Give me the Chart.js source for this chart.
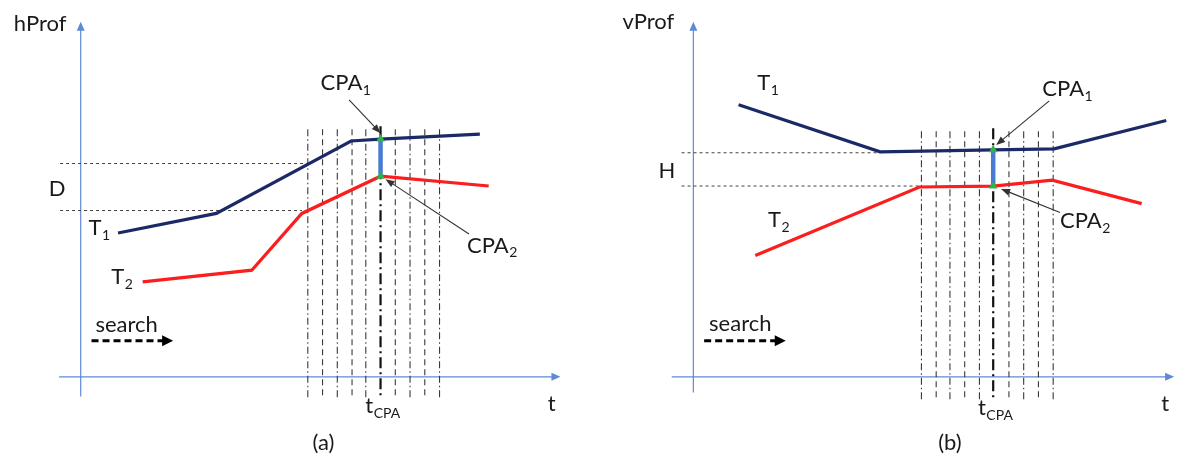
<!DOCTYPE html>
<html><head><meta charset="utf-8">
<script src="https://cdn.jsdelivr.net/npm/chart.js@4.4.1/dist/chart.umd.min.js"></script>
<style>
html,body{margin:0;padding:0;background:#fff;}
#wrap{display:flex;width:1185px;height:466px;}
canvas{display:block;}
</style></head><body>
<div id="wrap"><canvas id="ca" width="592" height="466"></canvas><canvas id="cb" width="593" height="466"></canvas></div>
<script>
// ---------- Panel (a): horizontal profile (hProf vs t) ----------
const hT1_t = [3.8, 13.8, 27.5, 30.5, 40.6];
const hT1_v = [14.7, 16.7, 24.1, 24.3, 24.8];
const hT2_t = [6.3, 17.4, 22.5, 30.5, 41.5];
const hT2_v = [9.7, 10.9, 16.7, 20.5, 19.5];
const hGrid_t = [23.1, 24.6, 26.1, 27.6, 29.0, 32.0, 33.5, 35.0, 36.5];
const hCPA_t = 30.5;
const hBand_v = [17.0, 21.8];      // D band levels
const hBand_end = [22.5, 23.1];    // where the band lines meet the tracks

// ---------- Panel (b): vertical profile (vProf vs t) ----------
const vT1_t = [4.6, 19.0, 30.5, 36.7, 48.1];
const vT1_v = [27.8, 23.0, 23.2, 23.3, 26.2];
const vT2_t = [6.3, 23.0, 30.5, 36.5, 45.6];
const vT2_v = [12.4, 19.4, 19.5, 20.1, 17.7];
const vGrid_t = [23.2, 24.7, 26.1, 27.6, 29.1, 32.1, 33.6, 35.1, 36.6];
const vCPA_t = 30.5;
const vBand_v = [19.5, 22.9];      // H band levels
const vBand_end = [23.0, 19.0];

const C = {
  navy: '#1b2a66', red: '#fa1e1e', seg: '#4a7bd0', green: '#2fb24c',
  axis: '#5f8ad6', grid: '#3a3a3a', text: '#1a1a1a'
};
const FONT = 'Lato, "Open Sans", sans-serif';

function pts(ts, vs){ return ts.map((t,i)=>({x:t, y:vs[i]})); }

function arrowHead(ctx, x1, y1, x2, y2, len, w, color){
  const a = Math.atan2(y2-y1, x2-x1);
  ctx.save();
  ctx.fillStyle = color;
  ctx.beginPath();
  ctx.moveTo(x2, y2);
  ctx.lineTo(x2 - len*Math.cos(a) + (w/2)*Math.sin(a), y2 - len*Math.sin(a) - (w/2)*Math.cos(a));
  ctx.lineTo(x2 - len*Math.cos(a) - (w/2)*Math.sin(a), y2 - len*Math.sin(a) + (w/2)*Math.cos(a));
  ctx.closePath();
  ctx.fill();
  ctx.restore();
}
function arrow(ctx, x1, y1, x2, y2, opt){
  const a = Math.atan2(y2-y1, x2-x1);
  ctx.save();
  ctx.strokeStyle = opt.color; ctx.lineWidth = opt.lw;
  ctx.setLineDash(opt.dash || []);
  ctx.beginPath();
  ctx.moveTo(x1, y1);
  ctx.lineTo(x2 - opt.len*0.8*Math.cos(a), y2 - opt.len*0.8*Math.sin(a));
  ctx.stroke();
  ctx.restore();
  arrowHead(ctx, x1, y1, x2, y2, opt.len, opt.w, opt.color);
}
function label(ctx, x, y, main, sub, size, align){
  ctx.save();
  ctx.fillStyle = C.text;
  ctx.textBaseline = 'middle';
  ctx.font = size + 'px ' + FONT;
  const wMain = ctx.measureText(main).width;
  let wSub = 0;
  const subSize = Math.round(size*0.64);
  if (sub){ ctx.font = subSize + 'px ' + FONT; wSub = ctx.measureText(sub).width; }
  let x0 = x;
  if (align === 'center') x0 = x - (wMain + wSub)/2;
  ctx.font = size + 'px ' + FONT;
  ctx.textAlign = 'left';
  ctx.fillText(main, x0, y);
  if (sub){ ctx.font = subSize + 'px ' + FONT; ctx.fillText(sub, x0 + wMain + 0.5, y + size*0.32); }
  ctx.restore();
}

function makePanel(id, P){
  const i1 = P.t1t.indexOf(P.tcpa), i2 = P.t2t.indexOf(P.tcpa);
  const cpa1 = P.t1v[i1], cpa2 = P.t2v[i2];
  const ds = [];
  ds.push({data:[{x:P.tcpa,y:cpa1},{x:P.tcpa,y:cpa2}], showLine:false, pointStyle:'triangle',
           pointRadius:5, pointBackgroundColor:C.green, pointBorderWidth:0});
  ds.push({data:[{x:P.tcpa,y:cpa2},{x:P.tcpa,y:cpa1}], borderColor:C.seg, borderWidth:4.5, pointRadius:0});
  ds.push({data:pts(P.t1t,P.t1v), borderColor:C.navy, borderWidth:3.2, pointRadius:0, borderJoinStyle:'miter'});
  ds.push({data:pts(P.t2t,P.t2v), borderColor:C.red, borderWidth:3.2, pointRadius:0, borderJoinStyle:'miter'});
  ds.push({data:[{x:P.tcpa,y:P.gridTop+0.3},{x:P.tcpa,y:P.gridBot}], borderColor:'#111', borderWidth:2.2,
           borderDash:[11,4,2,4], pointRadius:0});
  P.grid.forEach((t,k)=>{
    ds.push({data:[{x:t,y:P.gridTop},{x:t,y:P.gridBot}], borderColor:C.grid, borderWidth:1.1,
             borderDash: k%2===0 ? [7,3,1.5,3] : [6,4], pointRadius:0});
  });
  P.band.forEach((v,k)=>{
    ds.push({data:[{x:P.bandStart,y:v},{x:P.bandEnd[k],y:v}], borderColor:'#444', borderWidth:1,
             borderDash:[3,3], pointRadius:0});
  });

  const deco = {
    id:'deco'+id,
    beforeDatasetsDraw(chart){
      const ctx = chart.ctx, xs = chart.scales.x, ys = chart.scales.y;
      const X = v=>xs.getPixelForValue(v), Y = v=>ys.getPixelForValue(v);
      ctx.save();
      ctx.strokeStyle = C.axis; ctx.lineWidth = 1.2;
      ctx.beginPath();
      ctx.moveTo(X(P.axX[0]), Y(0)); ctx.lineTo(X(P.axX[1])-4, Y(0));
      ctx.moveTo(X(0), Y(P.axY[0])); ctx.lineTo(X(0), Y(P.axY[1])+4);
      ctx.stroke();
      ctx.restore();
      arrowHead(ctx, X(0), Y(0), X(P.axX[1]), Y(0), 9, 8, C.axis);
      arrowHead(ctx, X(0), Y(0), X(0), Y(P.axY[1]), 9, 8, C.axis);
    },
    afterDatasetsDraw(chart){
      const ctx = chart.ctx, xs = chart.scales.x, ys = chart.scales.y;
      const X = v=>xs.getPixelForValue(v), Y = v=>ys.getPixelForValue(v);
      P.labels.forEach(L=>label(ctx, X(L.t), Y(L.v), L.main, L.sub, L.size||22, L.align));
      P.arrows.forEach(A=>arrow(ctx, X(A.from[0]), Y(A.from[1]), X(A.to[0]), Y(A.to[1]),
        A.bold ? {color:'#000', lw:3, dash:[7,4], len:11, w:11}
               : {color:'#333', lw:1.1, len:9, w:7}));
    }
  };

  return new Chart(document.getElementById(id), {
    type:'line',
    data:{datasets:ds},
    options:{
      responsive:false, animation:false, devicePixelRatio:1,
      layout:{padding:0},
      plugins:{legend:{display:false}, tooltip:{enabled:false}},
      elements:{line:{tension:0, borderCapStyle:'butt'}},
      scales:{
        x:{type:'linear', min:P.xMin, max:P.xMax, display:false},
        y:{type:'linear', min:-8.6, max:38.0, display:false}
      }
    },
    plugins:[deco]
  });
}

makePanel('ca', {
  xMin:-7.7, xMax:51.5,
  t1t:hT1_t, t1v:hT1_v, t2t:hT2_t, t2v:hT2_v, grid:hGrid_t, tcpa:hCPA_t,
  gridTop:25.3, gridBot:-2.3,
  band:hBand_v, bandEnd:hBand_end, bandStart:-2.1,
  axX:[-2.2, 48.8], axY:[-2.0, 36.3],
  labels:[
    {t:-6.8, v:36.1, main:'hProf'},
    {t:-2.4, v:19.2, main:'D', align:'center'},
    {t:0.8, v:15.2, main:'T', sub:'1'},
    {t:3.1, v:10.2, main:'T', sub:'2'},
    {t:24.4, v:30.0, main:'CPA', sub:'1'},
    {t:39.3, v:13.4, main:'CPA', sub:'2'},
    {t:1.5, v:5.3, main:'search'},
    {t:30.7, v:-3.0, main:'t', sub:'CPA', align:'center'},
    {t:47.9, v:-2.8, main:'t', align:'center'},
    {t:24.7, v:-6.7, main:'(a)', align:'center'}
  ],
  arrows:[
    {from:[27.3, 28.3], to:[30.5, 24.9]},
    {from:[39.5, 14.6], to:[31.0, 20.2]},
    {from:[1.1, 3.7], to:[9.4, 3.7], bold:true}
  ]
});

makePanel('cb', {
  xMin:-9.8, xMax:49.5,
  t1t:vT1_t, t1v:vT1_v, t2t:vT2_t, t2v:vT2_v, grid:vGrid_t, tcpa:vCPA_t,
  gridTop:25.1, gridBot:-2.3,
  band:vBand_v, bandEnd:vBand_end, bandStart:-1.2,
  axX:[-2.2, 48.9], axY:[-1.6, 36.3],
  labels:[
    {t:-7.2, v:36.3, main:'vProf'},
    {t:-2.7, v:21.0, main:'H', align:'center'},
    {t:6.5, v:30.0, main:'T', sub:'1'},
    {t:7.6, v:16.0, main:'T', sub:'2'},
    {t:35.5, v:29.4, main:'CPA', sub:'1'},
    {t:37.3, v:15.9, main:'CPA', sub:'2'},
    {t:1.6, v:5.4, main:'search'},
    {t:30.7, v:-3.2, main:'t', sub:'CPA', align:'center'},
    {t:48.0, v:-2.8, main:'t', align:'center'},
    {t:26.1, v:-6.7, main:'(b)', align:'center'}
  ],
  arrows:[
    {from:[36.2, 28.2], to:[30.8, 23.7]},
    {from:[37.3, 16.8], to:[31.3, 19.2]},
    {from:[1.1, 3.7], to:[9.4, 3.7], bold:true}
  ]
});
</script>
</body></html>
